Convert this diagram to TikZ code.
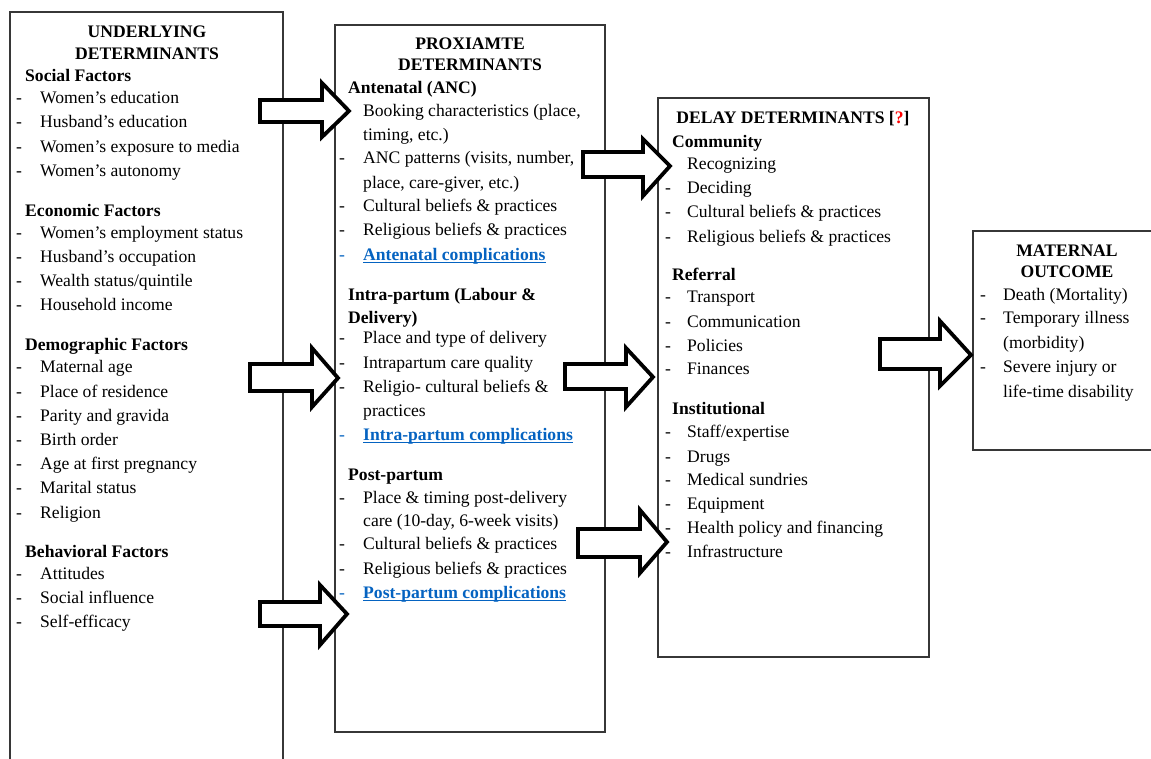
\documentclass[tikz,border=0pt]{standalone}
\usepackage{fontspec}
\setmainfont{Liberation Serif}
\definecolor{lnk}{RGB}{5,99,193}
\definecolor{bx}{RGB}{55,55,55}
\newcounter{tl}
\tikzset{
 txt/.style={anchor=base west, inner sep=0pt, font=\fontsize{17.6}{20}\selectfont},
 hd/.style={anchor=base west, inner sep=0pt, font=\fontsize{17.6}{20}\selectfont\bfseries},
 ttl/.style={anchor=base, inner sep=0pt, font=\fontsize{17.6}{20}\selectfont\bfseries},
 boxs/.style={draw=bx, line width=1.1pt, anchor=north west, inner sep=0pt, outer sep=0pt},
 barrow/.style={draw=black, fill=white, line width=3.8pt, line join=miter},
 lnks/.style={text=lnk},
}
% text line: x, y(centre), text
\newcommand\mytxt[3]{\stepcounter{tl}\node[txt] (t\thetl) at (#1,#2+5) {#3};}
\newcommand\myhead[3]{\stepcounter{tl}\node[hd] (t\thetl) at (#1,#2+5) {#3};}
\newcommand\mytitle[3]{\stepcounter{tl}\node[ttl] (t\thetl) at (#1,#2+5) {#3};}
% item: dash x, text x, y, text
\newcommand\myitem[4]{\stepcounter{tl}\node[txt] (d\thetl) at (#1,#3+5) {-};\node[txt] (t\thetl) at (#2,#3+5) {#4};}
\newcommand\mylink[4]{\stepcounter{tl}\node[txt,lnks] (d\thetl) at (#1,#3+5) {-};\node[hd,lnks] (t\thetl) at (#2,#3+5) {#4};
 \draw[lnk, line width=1.6pt] ([yshift=-2.6pt]t\thetl.base west) -- ([yshift=-2.6pt]t\thetl.base east);}
\newcommand\barrowpath[9]{\draw[barrow] (#2,#5) -- (#3,#5) -- (#3,#7) -- (#4,#9) -- (#3,#8) -- (#3,#6) -- (#2,#6) -- cycle; \coordinate (#1) at (#4,#9);}
\begin{document}
\begin{tikzpicture}[x=1pt,y=-1pt]
\clip (0,0) rectangle (1151,758);
\fill[white] (0,0) rectangle (1151,758);
% boxes
\node[boxs, minimum width=273pt, minimum height=780pt] (under) at (10,12) {};
\node[boxs, minimum width=270pt, minimum height=707pt] (prox) at (335,25) {};
\node[boxs, minimum width=271pt, minimum height=559pt] (delay) at (658,98) {};
\node[boxs, minimum width=192pt, minimum height=219pt] (outc) at (973,231) {};
% Box 1
\mytitle{147}{32}{UNDERLYING}
\mytitle{147}{54}{DETERMINANTS}
\myhead{25}{76}{Social Factors}
\myitem{16}{40}{98}{Women’s education}
\myitem{16}{40}{122}{Husband’s education}
\myitem{16}{40}{147}{Women’s exposure to media}
\myitem{16}{40}{171}{Women’s autonomy}
\myhead{25}{211}{Economic Factors}
\myitem{16}{40}{233}{Women’s employment status}
\myitem{16}{40}{257}{Husband’s occupation}
\myitem{16}{40}{281}{Wealth status/quintile}
\myitem{16}{40}{305}{Household income}
\myhead{25}{345}{Demographic Factors}
\myitem{16}{40}{367}{Maternal age}
\myitem{16}{40}{392}{Place of residence}
\myitem{16}{40}{416}{Parity and gravida}
\myitem{16}{40}{440}{Birth order}
\myitem{16}{40}{464}{Age at first pregnancy}
\myitem{16}{40}{488}{Marital status}
\myitem{16}{40}{513}{Religion}
\myhead{25}{552}{Behavioral Factors}
\myitem{16}{40}{574}{Attitudes}
\myitem{16}{40}{598}{Social influence}
\myitem{16}{40}{622}{Self-efficacy}
% Box 2
\mytitle{470}{44}{PROXIAMTE}
\mytitle{470}{65}{DETERMINANTS}
\myhead{348}{88}{Antenatal (ANC)}
\myitem{339}{363}{111}{Booking characteristics (place,}
\mytxt{363}{135}{timing, etc.)}
\myitem{339}{363}{158}{ANC patterns (visits, number,}
\mytxt{363}{183}{place, care-giver, etc.)}
\myitem{339}{363}{206}{Cultural beliefs \& practices}
\myitem{339}{363}{230}{Religious beliefs \& practices}
\mylink{339}{363}{255}{Antenatal complications}
\myhead{348}{295}{Intra-partum (Labour \&}
\myhead{348}{318}{Delivery)}
\myitem{339}{363}{338}{Place and type of delivery}
\myitem{339}{363}{363}{Intrapartum care quality}
\myitem{339}{363}{387}{Religio- cultural beliefs \&}
\mytxt{363}{411}{practices}
\mylink{339}{363}{435}{Intra-partum complications}
\myhead{348}{475}{Post-partum}
\myitem{339}{363}{498}{Place \& timing post-delivery}
\mytxt{363}{521}{care (10-day, 6-week visits)}
\myitem{339}{363}{544}{Cultural beliefs \& practices}
\myitem{339}{363}{569}{Religious beliefs \& practices}
\mylink{339}{363}{593}{Post-partum complications}
% Box 3
\mytitle{793}{118}{DELAY DETERMINANTS [\textcolor{red}{?}]}
\myhead{672}{142}{Community}
\myitem{665}{687}{164}{Recognizing}
\myitem{665}{687}{188}{Deciding}
\myitem{665}{687}{212}{Cultural beliefs \& practices}
\myitem{665}{687}{237}{Religious beliefs \& practices}
\myhead{672}{275}{Referral}
\myitem{665}{687}{297}{Transport}
\myitem{665}{687}{322}{Communication}
\myitem{665}{687}{346}{Policies}
\myitem{665}{687}{369}{Finances}
\myhead{672}{409}{Institutional}
\myitem{665}{687}{432}{Staff/expertise}
\myitem{665}{687}{457}{Drugs}
\myitem{665}{687}{480}{Medical sundries}
\myitem{665}{687}{504}{Equipment}
\myitem{665}{687}{528}{Health policy and financing}
\myitem{665}{687}{552}{Infrastructure}
% Box 4
\mytitle{1067}{251}{MATERNAL}
\mytitle{1067}{272}{OUTCOME}
\myitem{980}{1003}{295}{Death (Mortality)}
\myitem{980}{1003}{318}{Temporary illness}
\mytxt{1003}{343}{(morbidity)}
\myitem{980}{1003}{367}{Severe injury or}
\mytxt{1003}{392}{life-time disability}
% block arrows
\barrowpath{a1}{260}{322}{349}{100}{122}{83}{137}{111}
\barrowpath{a2}{250}{312}{338}{364}{391}{348}{407}{378}
\barrowpath{a3}{260}{320}{347}{602}{626}{585}{645}{614}
\barrowpath{a4}{583}{643}{670}{152}{177}{139}{196}{166}
\barrowpath{a5}{565}{626}{653}{364}{389}{348}{407}{377}
\barrowpath{a6}{578}{640}{667}{529}{557}{510}{573}{542}
\barrowpath{a7}{880}{940}{971}{339}{369}{321}{386}{355}
\end{tikzpicture}
\end{document}
